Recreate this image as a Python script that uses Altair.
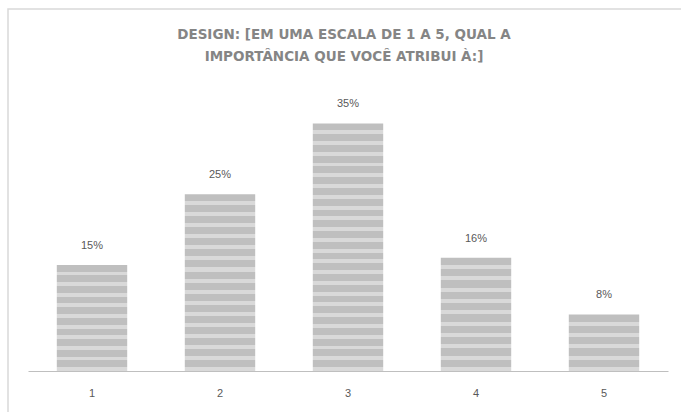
import altair as alt
import pandas as pd

categories = ["1", "2", "3", "4", "5"]
values = [0.15, 0.25, 0.35, 0.16, 0.08]
labels = ["15%", "25%", "35%", "16%", "8%"]

title_lines = ["DESIGN: [EM UMA ESCALA DE 1 A 5, QUAL A", "IMPORTÂNCIA QUE VOCÊ ATRIBUI À:]"]

df = pd.DataFrame({"cat": categories, "val": values, "label": labels})

PLOT_H = 283
Y_MAX = 0.40
x_enc = alt.X("cat:N", sort=categories, title=None,
              scale=alt.Scale(paddingInner=0.45, paddingOuter=0.225),
              axis=alt.Axis(labelAngle=0, ticks=False, domainColor="#bfbfbf",
                            labelColor="#595959", labelFontSize=11,
                            labelFont="Liberation Sans", labelPadding=16))
y_enc = alt.Y("val:Q", scale=alt.Scale(domain=[0, Y_MAX]), axis=None)


def stripe_gradient(v):
    h = v / Y_MAX * PLOT_H
    period = 11.0
    dark_frac = 7.0 / period
    stops = []
    n = max(1, int(round(h / period)))
    for i in range(n):
        a = i / n
        b = (i + dark_frac) / n
        c = (i + 1) / n
        stops += [
            alt.GradientStop(offset=a, color="#bfbfbf"),
            alt.GradientStop(offset=b, color="#bfbfbf"),
            alt.GradientStop(offset=b, color="#d9d9d9"),
            alt.GradientStop(offset=c, color="#d9d9d9"),
        ]
    return alt.Gradient(gradient="linear", stops=stops, x1=0, x2=0, y1=0, y2=1)


frame = alt.Chart(df).mark_rect(fill=None, fillOpacity=0, stroke="#d9d9d9", strokeWidth=1.5).encode(
    x=alt.value(-20), x2=alt.value(720), y=alt.value(-79), y2=alt.value(400)
).transform_filter(alt.datum.cat == "1")

title = alt.Chart(df).transform_filter(alt.datum.cat == "1").mark_text(
    baseline="top", align="center", fontSize=13.5, fontWeight="bold",
    color="#858585", font="DejaVu Sans", lineHeight=22
).encode(x=alt.value(316), y=alt.value(-60), text=alt.value(title_lines))

layers = [frame, title]
for c, v in zip(categories, values):
    layers.append(
        alt.Chart(df).transform_filter(alt.datum.cat == c)
        .mark_bar(color=stripe_gradient(v))
        .encode(x=x_enc, y=y_enc)
    )

text = alt.Chart(df).mark_text(baseline="middle", dy=-19, fontSize=11,
                               color="#595959", font="Liberation Sans").encode(
    x=alt.X("cat:N", sort=categories), y=y_enc, text="label:N")
layers.append(text)

chart = alt.layer(*layers).properties(
    width=640, height=PLOT_H,
    background="white",
    autosize=alt.AutoSizeParams(type="none"),
    padding={"left": 28, "top": 88, "right": 13, "bottom": 41},
).configure_view(strokeWidth=0, stroke="transparent")

chart.save("out.html", embed_options={"renderer": "svg", "actions": False})
